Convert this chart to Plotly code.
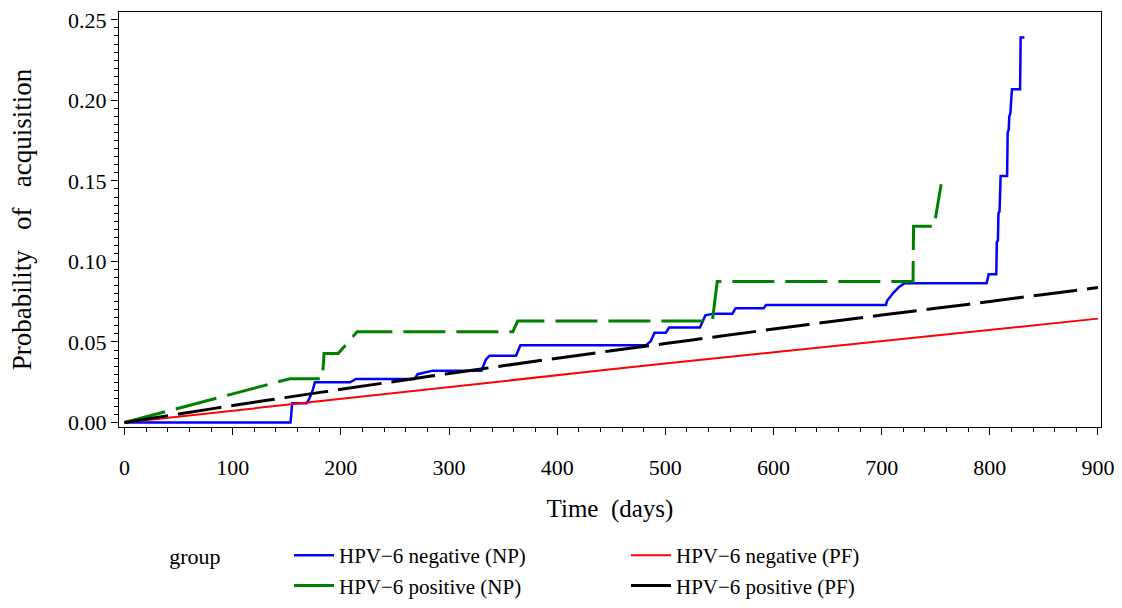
import plotly.graph_objects as go

# ---- data ----
np_neg_days = [0, 153.5, 155, 168.5, 171, 174, 176, 208.5, 214, 268, 271, 285, 330, 334, 337.5,
               362, 366, 482, 486.5, 490, 500.5, 503.5, 532, 537, 545, 562, 565, 591, 593,
               704, 705, 711, 716, 721, 797, 799, 806, 806.5, 807.5, 808, 809, 810, 816,
               816.5, 817.5, 818, 819, 819.5, 820.5, 828, 828.5, 832]
np_neg_prob = [0, 0, 0.012, 0.012, 0.015, 0.020, 0.025, 0.025, 0.027, 0.027, 0.030, 0.0322, 0.0322, 0.039, 0.0415,
               0.0415, 0.0479, 0.0479, 0.0505, 0.0558, 0.0558, 0.059, 0.059, 0.0665, 0.0676, 0.0676, 0.071, 0.071, 0.073,
               0.073, 0.0756, 0.0807, 0.0841, 0.0864, 0.0864, 0.092, 0.092, 0.112, 0.113, 0.130, 0.131, 0.153, 0.153,
               0.180, 0.182, 0.190, 0.192, 0.200, 0.207, 0.207, 0.239, 0.239]

np_pos_days = [0, 153, 183, 184.5, 197.5, 215, 359, 363.5, 543.5, 548, 729, 729.5, 749, 750, 755]
np_pos_prob = [0, 0.0272, 0.0272, 0.0428, 0.0428, 0.0563, 0.0563, 0.0630, 0.0630, 0.0876, 0.0876, 0.1218, 0.1218, 0.128, 0.148]

pf_days = [0, 50, 100, 150, 200, 250, 300, 350, 400, 450, 500, 550, 600, 650, 700, 750, 800, 850, 900]
pf_neg_prob = [0, 0.0037, 0.0075, 0.0112, 0.0149, 0.0186, 0.0222, 0.0258, 0.0294, 0.0330, 0.0366, 0.0401,
               0.0436, 0.0471, 0.0506, 0.0540, 0.0575, 0.0610, 0.0645]
pf_pos_prob = [0, 0.0053, 0.0105, 0.0156, 0.0206, 0.0255, 0.0304, 0.0352, 0.0399, 0.0445, 0.0490, 0.0535, 0.0580,
               0.0624, 0.0667, 0.0709, 0.0751, 0.0795, 0.0838]

names = ["HPV\u22126 negative (NP)", "HPV\u22126 negative (PF)",
         "HPV\u22126 positive (NP)", "HPV\u22126 positive (PF)"]

FONT = "Liberation Serif"

fig = go.Figure()
fig.add_trace(go.Scatter(x=np_neg_days, y=np_neg_prob, mode="lines", name=names[0],
                         line=dict(color="#0000FF", width=2.5)))
fig.add_trace(go.Scatter(x=pf_days, y=pf_neg_prob, mode="lines", name=names[1],
                         line=dict(color="#FF0000", width=2)))
fig.add_trace(go.Scatter(x=np_pos_days, y=np_pos_prob, mode="lines", name=names[2],
                         line=dict(color="#008000", width=3, dash="42px,11px")))
fig.add_trace(go.Scatter(x=pf_days, y=pf_pos_prob, mode="lines", name=names[3],
                         line=dict(color="#000000", width=3, dash="44px,10px"), line_shape="spline"))

fig.update_layout(
    width=1122, height=608,
    margin=dict(l=119, r=17, t=8, b=181, pad=0),
    paper_bgcolor="white", plot_bgcolor="white",
    font=dict(family=FONT, size=22, color="black"),
    showlegend=True,
    legend=dict(orientation="h", xref="container", yref="container",
                x=0.149, xanchor="left", y=0.12, yanchor="top",
                title=dict(text="group" + "\u00a0" * 11, side="left", font=dict(size=22)),
                entrywidth=282, entrywidthmode="pixels",
                font=dict(size=21), tracegroupgap=0, itemwidth=40),
)
fig.update_xaxes(
    range=[-5.1, 902.8], tickmode="array", tickvals=list(range(0, 901, 100)),
    ticks="outside", ticklen=7, tickwidth=1, tickcolor="black",
    minor=dict(dtick=20, tick0=0, ticks="outside", ticklen=4, tickcolor="black", showgrid=False),
    showline=True, linecolor="black", linewidth=1, mirror=True, showgrid=False, zeroline=False,
    ticklabelstandoff=14,
    title=dict(text="Time\u00a0 (days)", standoff=20, font=dict(size=25)),
    tickfont=dict(size=22),
)
fig.update_yaxes(
    range=[-0.0028, 0.2549], tickmode="array", tickvals=[0, 0.05, 0.10, 0.15, 0.20, 0.25],
    ticktext=["0.00", "0.05", "0.10", "0.15", "0.20", "0.25"],
    ticks="outside", ticklen=7, tickwidth=1, tickcolor="black",
    minor=dict(dtick=0.005, tick0=0, ticks="outside", ticklen=4, tickcolor="black", showgrid=False),
    showline=True, linecolor="black", linewidth=1, mirror=True, showgrid=False, zeroline=False,
    title=dict(text="Probability\u00a0\u00a0 of\u00a0\u00a0 acquisition", standoff=28, font=dict(size=27)),
    tickfont=dict(size=22),
)

fig.write_html("out.html")
